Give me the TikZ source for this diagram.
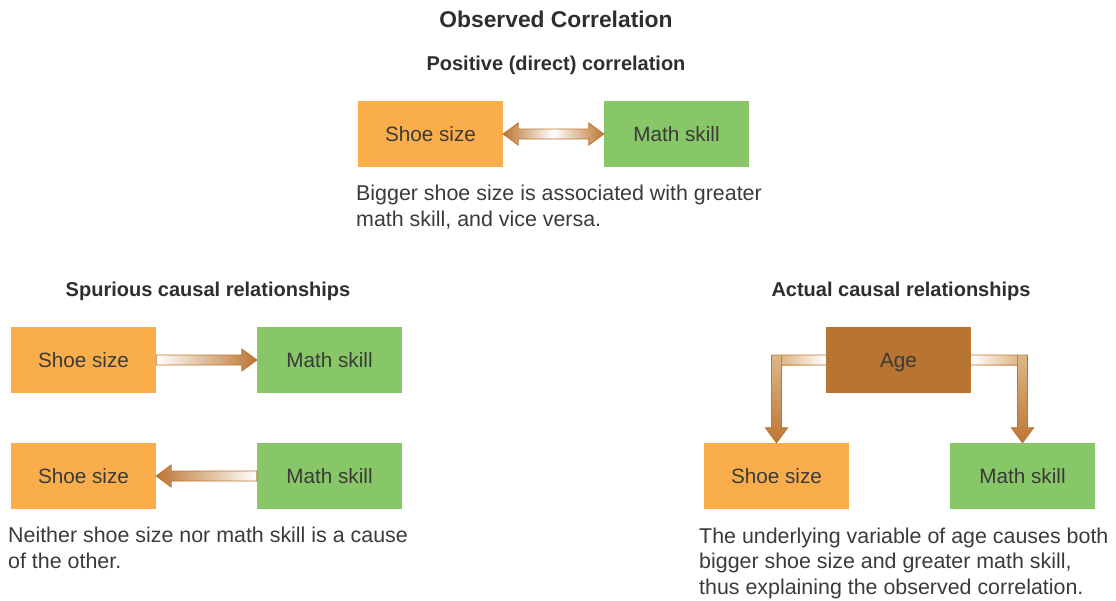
\documentclass[tikz,border=0pt]{standalone}
\usepackage{fontspec}
\setmainfont{Liberation Sans}
\usetikzlibrary{calc}
\definecolor{boxorange}{HTML}{FAAE4B}
\definecolor{boxgreen}{HTML}{88C767}
\definecolor{boxbrown}{HTML}{B97432}
\definecolor{arrbrown}{HTML}{BD7632}
\definecolor{arrtan}{HTML}{DDB687}
\definecolor{txt}{HTML}{2E2E2E}
\definecolor{txtl}{HTML}{3A3A3A}
\tikzset{
  box/.style={rectangle, minimum width=145pt, minimum height=66pt, inner sep=0pt,
    text depth=0pt, font=\fontsize{20.7}{24}\selectfont, text=txtl},
  obox/.style={box, fill=boxorange},
  gbox/.style={box, fill=boxgreen},
  bbox/.style={box, fill=boxbrown},
  ttl/.style={anchor=base, inner sep=0pt, font=\fontsize{22.8}{26}\selectfont\bfseries, text=txt},
  sub/.style={anchor=base, inner sep=0pt, font=\fontsize{20}{24}\selectfont\bfseries, text=txt},
  captxt/.style={anchor=base west, inner sep=0pt, font=\fontsize{21.4}{26}\selectfont, text=txtl},
  arrline/.style={draw=arrbrown, line width=0.9pt, line join=miter},
}
\begin{document}
\begin{tikzpicture}[x=1pt, y=-1pt]
\useasboundingbox (0,0) rectangle (1116,600);

% titles
\node[ttl] (title) at (556,27) {Observed Correlation};
\node[sub] (pos) at (556,70) {Positive (direct) correlation};
\node[sub] (spur) at (208,296) {Spurious causal relationships};
\node[sub] (act) at (901,296) {Actual causal relationships};

% top row
\node[obox] (s0) at (430.5,134) {Shoe size};
\node[gbox] (m0) at (676.5,134) {Math skill};
\path[arrline, left color=arrbrown, right color=arrbrown, middle color=white]
  (s0.east) -- ($(s0.east)+(15,-11)$) -- ($(s0.east)+(15,-5)$)
  -- ($(m0.west)+(-15,-5)$) -- ($(m0.west)+(-15,-11)$) -- (m0.west)
  -- ($(m0.west)+(-15,11)$) -- ($(m0.west)+(-15,5)$)
  -- ($(s0.east)+(15,5)$) -- ($(s0.east)+(15,11)$) -- cycle;
\node[captxt] (c0a) at (356,200) {Bigger shoe size is associated with greater};
\node[captxt] (c0b) at (356,226) {math skill, and vice versa.};

% spurious
\node[obox] (s1) at (83.5,360) {Shoe size};
\node[gbox] (m1) at (329.5,360) {Math skill};
\node[obox] (s2) at (83.5,476) {Shoe size};
\node[gbox] (m2) at (329.5,476) {Math skill};
\path[arrline, left color=white, right color=arrbrown]
  ($(s1.east)+(0,-5)$) -- ($(m1.west)+(-15,-5)$) -- ($(m1.west)+(-15,-11)$) -- (m1.west)
  -- ($(m1.west)+(-15,11)$) -- ($(m1.west)+(-15,5)$) -- ($(s1.east)+(0,5)$) -- cycle;
\path[arrline, left color=arrbrown, right color=white]
  ($(m2.west)+(0,-5)$) -- ($(s2.east)+(15,-5)$) -- ($(s2.east)+(15,-11)$) -- (s2.east)
  -- ($(s2.east)+(15,11)$) -- ($(s2.east)+(15,5)$) -- ($(m2.west)+(0,5)$) -- cycle;
\node[captxt] (c1a) at (8,542) {Neither shoe size nor math skill is a cause};
\node[captxt] (c1b) at (8,568) {of the other.};

% actual
\node[bbox] (age) at (898.5,360) {Age};
\node[obox] (s3) at (776.5,476) {Shoe size};
\node[gbox] (m3) at (1022.5,476) {Math skill};
\coordinate (kl) at (s3.north |- age.west);
\coordinate (kr) at (m3.north |- age.east);
% left elbow fills
\fill[left color=arrtan, right color=white] ($(kl)+(5,-5)$) rectangle ($(age.west)+(0,5)$);
\fill[top color=arrtan, bottom color=arrbrown]
  ($(kl)+(-5,-5)$) -- ($(kl)+(5,-5)$) -- ($(s3.north)+(5,-15)$) -- ($(s3.north)+(11,-15)$)
  -- (s3.north) -- ($(s3.north)+(-11,-15)$) -- ($(s3.north)+(-5,-15)$) -- cycle;
\draw[arrline]
  ($(age.west)+(0,-5)$) -- ($(kl)+(-5,-5)$) -- ($(s3.north)+(-5,-15)$) -- ($(s3.north)+(-11,-15)$)
  -- (s3.north) -- ($(s3.north)+(11,-15)$) -- ($(s3.north)+(5,-15)$) -- ($(kl)+(5,5)$)
  -- ($(age.west)+(0,5)$);
% right elbow fills
\fill[left color=white, right color=arrtan] ($(age.east)+(0,-5)$) rectangle ($(kr)+(-5,5)$);
\fill[top color=arrtan, bottom color=arrbrown]
  ($(kr)+(-5,-5)$) -- ($(kr)+(5,-5)$) -- ($(m3.north)+(5,-15)$) -- ($(m3.north)+(11,-15)$)
  -- (m3.north) -- ($(m3.north)+(-11,-15)$) -- ($(m3.north)+(-5,-15)$) -- cycle;
\draw[arrline]
  ($(age.east)+(0,-5)$) -- ($(kr)+(5,-5)$) -- ($(m3.north)+(5,-15)$) -- ($(m3.north)+(11,-15)$)
  -- (m3.north) -- ($(m3.north)+(-11,-15)$) -- ($(m3.north)+(-5,-15)$) -- ($(kr)+(-5,5)$)
  -- ($(age.east)+(0,5)$);
\node[captxt] (c2a) at (699,543) {The underlying variable of age causes both};
\node[captxt] (c2b) at (699,568.5) {bigger shoe size and greater math skill,};
\node[captxt] (c2c) at (699,594) {thus explaining the observed correlation.};
\end{tikzpicture}
\end{document}
